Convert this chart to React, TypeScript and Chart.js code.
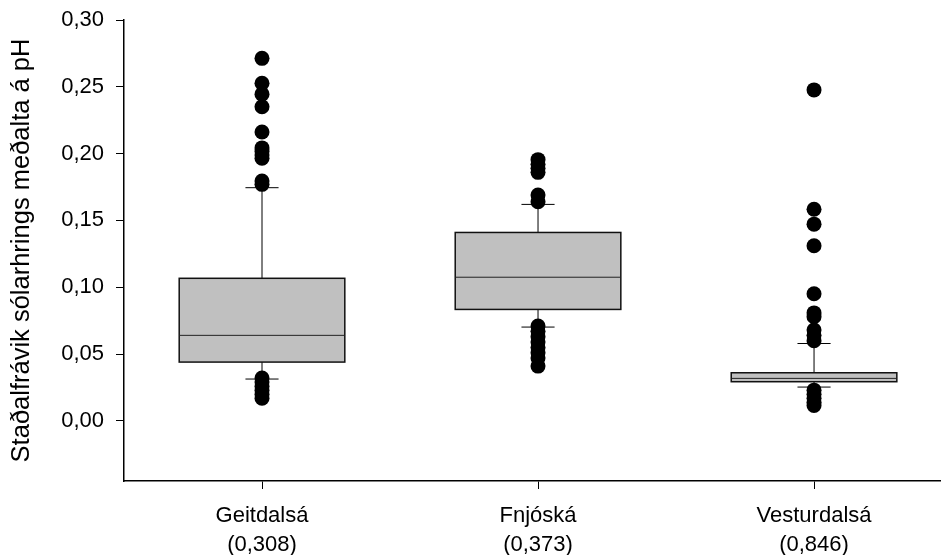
import React, { useEffect, useRef } from "react";
import { Chart, registerables } from "chart.js";

Chart.register(...registerables);

const categories = ["Geitdalsá", "Fnjóská", "Vesturdalsá"];
const subLabels = ["(0,308)", "(0,373)", "(0,846)"];
const yTicks = [0, 0.05, 0.1, 0.15, 0.2, 0.25, 0.3];
const yAxisTitle = "Staðalfrávik sólarhrings meðalta á pH";

const q1 = [0.044, 0.0834, 0.0293];
const median = [0.064, 0.1075, 0.0318];
const q3 = [0.1067, 0.141, 0.036];
const whiskerLow = [0.0313, 0.0702, 0.0253];
const whiskerHigh = [0.1745, 0.162, 0.0579];

const geitdalsaOutliers = [0.2713, 0.2527, 0.2445, 0.2351, 0.2162, 0.2043, 0.2015, 0.199, 0.1965, 0.1795, 0.177, 0.032, 0.029, 0.026, 0.023, 0.02, 0.017];
const fnjoskaOutliers = [0.1955, 0.192, 0.189, 0.186, 0.169, 0.164, 0.071, 0.067, 0.063, 0.059, 0.055, 0.051, 0.047, 0.041];
const vesturdalsaOutliers = [0.2477, 0.1584, 0.1472, 0.1311, 0.0951, 0.0808, 0.078, 0.068, 0.064, 0.06, 0.023, 0.02, 0.017, 0.014, 0.0115];

const outlierGroups = [geitdalsaOutliers, fnjoskaOutliers, vesturdalsaOutliers];

const FONT = "'Liberation Sans', Arial, sans-serif";

const boxPlugin = {
  id: "boxPlugin",
  beforeDatasetsDraw(chart: any) {
    const ctx = chart.ctx;
    const xs = chart.scales.x;
    const ys = chart.scales.y;
    ctx.save();
    for (let i = 0; i < categories.length; i++) {
      const c = i + 1;
      const cx = xs.getPixelForValue(c);
      const left = xs.getPixelForValue(c - 0.3);
      const right = xs.getPixelForValue(c + 0.3);
      const capL = xs.getPixelForValue(c - 0.06);
      const capR = xs.getPixelForValue(c + 0.06);
      const yq1 = ys.getPixelForValue(q1[i]);
      const yq3 = ys.getPixelForValue(q3[i]);
      const ym = ys.getPixelForValue(median[i]);
      const ywl = ys.getPixelForValue(whiskerLow[i]);
      const ywh = ys.getPixelForValue(whiskerHigh[i]);
      ctx.strokeStyle = "#000";
      ctx.lineWidth = 1;
      ctx.beginPath();
      ctx.moveTo(cx, yq3);
      ctx.lineTo(cx, ywh);
      ctx.moveTo(capL, ywh);
      ctx.lineTo(capR, ywh);
      ctx.moveTo(cx, yq1);
      ctx.lineTo(cx, ywl);
      ctx.moveTo(capL, ywl);
      ctx.lineTo(capR, ywl);
      ctx.stroke();
      ctx.fillStyle = "#c0c0c0";
      ctx.fillRect(left, yq3, right - left, yq1 - yq3);
      ctx.lineWidth = 1.5;
      ctx.strokeStyle = "#111";
      ctx.strokeRect(left, yq3, right - left, yq1 - yq3);
      ctx.lineWidth = 1;
      ctx.strokeStyle = "#222";
      ctx.beginPath();
      ctx.moveTo(left, ym);
      ctx.lineTo(right, ym);
      ctx.stroke();
    }
    ctx.restore();
  },
};

export default function App() {
  const ref = useRef<HTMLCanvasElement | null>(null);

  useEffect(() => {
    if (!ref.current) return;
    const outlierData: { x: number; y: number }[] = [];
    outlierGroups.forEach((g, i) => g.forEach((v) => outlierData.push({ x: i + 1, y: v })));

    const chart = new Chart(ref.current, {
      type: "scatter",
      data: {
        datasets: [
          {
            data: outlierData,
            pointRadius: 7.5,
            pointHoverRadius: 7.5,
            pointBackgroundColor: "#000",
            pointBorderColor: "#000",
            pointBorderWidth: 0,
          },
        ],
      },
      options: {
        animation: false,
        responsive: false,
        maintainAspectRatio: false,
        layout: { autoPadding: false, padding: { top: 20, right: 0, left: 0, bottom: 0 } },
        plugins: {
          legend: { display: false },
          tooltip: { enabled: false },
        },
        scales: {
          x: {
            type: "linear",
            min: 0.5,
            max: 3.46,
            afterBuildTicks: (axis: any) => {
              axis.ticks = categories.map((_, i) => ({ value: i + 1 }));
            },
            afterFit: (axis: any) => {
              axis.height = 74;
              axis.paddingLeft = 0;
              axis.paddingRight = 0;
            },
            ticks: {
              color: "#000",
              font: { family: FONT, size: 22, lineHeight: 1.32 },
              padding: 12,
              maxRotation: 0,
              autoSkip: false,
              callback: (v: any) => {
                const i = Math.round(Number(v)) - 1;
                return [categories[i], subLabels[i]];
              },
            },
            grid: {
              display: true,
              drawOnChartArea: false,
              drawTicks: true,
              tickLength: 8,
              color: "#000",
              lineWidth: 1,
            },
            border: { display: true, color: "#000", width: 1.5 },
          },
          y: {
            type: "linear",
            min: -0.045,
            max: 0.3,
            afterBuildTicks: (axis: any) => {
              axis.ticks = yTicks.map((v) => ({ value: v }));
            },
            afterFit: (axis: any) => {
              axis.width = 124;
              axis.paddingTop = 0;
              axis.paddingBottom = 0;
            },
            title: {
              display: true,
              text: yAxisTitle,
              color: "#000",
              font: { family: FONT, size: 25.5 },
              padding: { top: 7, bottom: 0 },
            },
            ticks: {
              color: "#000",
              font: { family: FONT, size: 22 },
              padding: 12,
              callback: (v: any) => Number(v).toFixed(2).replace(".", ","),
            },
            grid: {
              display: true,
              drawOnChartArea: false,
              drawTicks: true,
              tickLength: 8,
              color: "#000",
              lineWidth: 1,
            },
            border: { display: true, color: "#000", width: 1.5 },
          },
        },
      },
      plugins: [boxPlugin],
    });
    return () => chart.destroy();
  }, []);

  return (
    <div style={{ position: "fixed", left: 0, top: 0, width: 941, height: 555, background: "#fff" }}>
      <canvas ref={ref} width={941} height={555} style={{ display: "block" }} />
    </div>
  );
}
